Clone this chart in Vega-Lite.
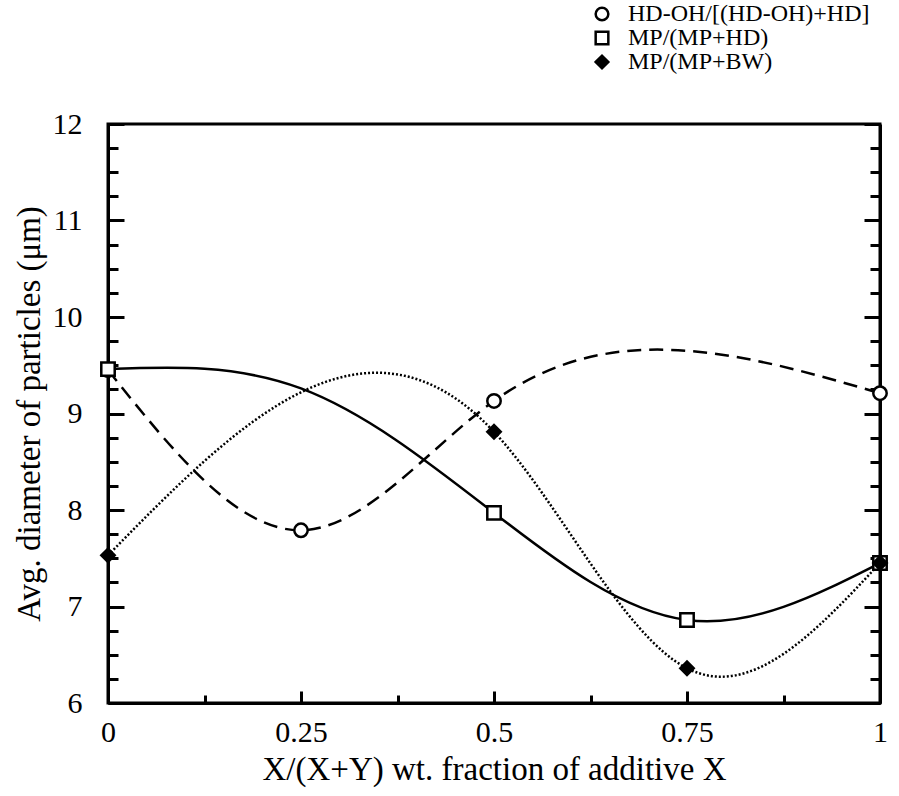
{
  "$schema": "https://vega.github.io/schema/vega-lite/v6.json",
  "width": 772,
  "height": 579,
  "autosize": "none",
  "padding": {"left": 108, "top": 124, "right": 19, "bottom": 93},
  "background": "white",
  "config": {
    "view": {"stroke": "black", "strokeWidth": 3},
    "font": "Liberation Serif",
    "axis": {
      "domainColor": "black",
      "domainWidth": 3,
      "tickColor": "black",
      "tickWidth": 3,
      "labelColor": "black",
      "titleColor": "black",
      "labelFont": "Liberation Serif",
      "titleFont": "Liberation Serif",
      "labelFontSize": 30,
      "titleFontSize": 33,
      "titleFontWeight": "normal",
      "grid": false
    },
    "legend": {
      "labelFont": "Liberation Serif",
      "labelFontSize": 24,
      "labelColor": "black",
      "labelLimit": 500,
      "symbolSize": 160,
      "symbolStrokeWidth": 2.5,
      "symbolStrokeColor": "black",
      "labelOffset": 14,
      "rowPadding": 0
    }
  },
  "data": {
    "values": [
      {"series": "HD-OH/[(HD-OH)+HD]", "x": 0, "y": 9.45, "marker": true},
      {"series": "HD-OH/[(HD-OH)+HD]", "x": 0.25, "y": 7.79, "marker": true},
      {"series": "HD-OH/[(HD-OH)+HD]", "x": 0.5, "y": 9.13, "marker": true},
      {"series": "HD-OH/[(HD-OH)+HD]", "x": 0.75, "y": 9.65, "marker": false},
      {"series": "HD-OH/[(HD-OH)+HD]", "x": 1, "y": 9.21, "marker": true},
      {"series": "MP/(MP+HD)", "x": 0, "y": 9.46, "marker": true},
      {"series": "MP/(MP+HD)", "x": 0.25, "y": 9.26, "marker": false},
      {"series": "MP/(MP+HD)", "x": 0.5, "y": 7.97, "marker": true},
      {"series": "MP/(MP+HD)", "x": 0.75, "y": 6.86, "marker": true},
      {"series": "MP/(MP+HD)", "x": 1, "y": 7.45, "marker": true},
      {"series": "MP/(MP+BW)", "x": 0, "y": 7.53, "marker": true},
      {"series": "MP/(MP+BW)", "x": 0.25, "y": 9.22, "marker": false},
      {"series": "MP/(MP+BW)", "x": 0.5, "y": 8.81, "marker": true},
      {"series": "MP/(MP+BW)", "x": 0.75, "y": 6.36, "marker": true},
      {"series": "MP/(MP+BW)", "x": 1, "y": 7.45, "marker": true}
    ]
  },
  "encoding": {
    "x": {
      "field": "x", "type": "quantitative",
      "scale": {"domain": [0, 1], "nice": false},
      "axis": {
        "title": "X/(X+Y) wt. fraction of additive X",
        "values": [0, 0.125, 0.25, 0.375, 0.5, 0.625, 0.75, 0.875, 1],
        "labelExpr": "datum.value * 4 % 1 == 0 ? '' + datum.value : ''",
        "tickSize": {"condition": {"test": "datum.value * 4 % 1 == 0", "value": -12}, "value": -8},
        "labelPadding": 26,
        "titlePadding": 2,
        "labelFlush": false,
        "labelOverlap": false
      }
    }
  },
  "layer": [
    {
      "transform": [{"filter": "datum.series == 'HD-OH/[(HD-OH)+HD]'"}],
      "mark": {"type": "line", "interpolate": "natural", "strokeWidth": 2.5, "color": "black", "strokeDash": [14, 8]},
      "encoding": {
        "y": {
          "field": "y", "type": "quantitative",
          "scale": {"domain": [6, 12], "nice": false, "zero": false},
          "axis": {
            "title": "Avg. diameter of particles (μm)",
            "values": [6, 6.25, 6.5, 6.75, 7, 7.25, 7.5, 7.75, 8, 8.25, 8.5, 8.75, 9, 9.25, 9.5, 9.75, 10, 10.25, 10.5, 10.75, 11, 11.25, 11.5, 11.75, 12],
            "labelExpr": "datum.value % 1 == 0 ? '' + datum.value : ''",
            "tickSize": {"condition": {"test": "datum.value % 1 == 0", "value": -16}, "value": -10},
            "labelPadding": 42,
            "titlePadding": 6,
            "labelFlush": false,
            "labelOverlap": false
          }
        }
      }
    },
    {
      "transform": [{"filter": "datum.series == 'MP/(MP+HD)'"}],
      "mark": {"type": "line", "interpolate": "natural", "strokeWidth": 2.5, "color": "black"},
      "encoding": {
        "y": {"field": "y", "type": "quantitative", "axis": null}
      }
    },
    {
      "transform": [{"filter": "datum.series == 'MP/(MP+BW)'"}],
      "mark": {"type": "line", "interpolate": "natural", "strokeWidth": 2.5, "color": "black", "strokeDash": [2, 2]},
      "encoding": {
        "y": {"field": "y", "type": "quantitative", "axis": null}
      }
    },
    {
      "transform": [{"filter": "datum.marker"}],
      "mark": {"type": "point", "filled": false, "strokeWidth": 2.5, "opacity": 1, "size": 180},
      "encoding": {
        "y": {
          "field": "y", "type": "quantitative",
          "axis": {
            "orient": "right",
            "title": null,
            "values": [6, 6.25, 6.5, 6.75, 7, 7.25, 7.5, 7.75, 8, 8.25, 8.5, 8.75, 9, 9.25, 9.5, 9.75, 10, 10.25, 10.5, 10.75, 11, 11.25, 11.5, 11.75, 12],
            "labels": false,
            "tickSize": {"condition": {"test": "datum.value % 1 == 0", "value": -16}, "value": -10}
          }
        },
        "shape": {
          "field": "series", "type": "nominal",
          "scale": {"domain": ["HD-OH/[(HD-OH)+HD]", "MP/(MP+HD)", "MP/(MP+BW)"], "range": ["circle", "square", "diamond"]},
          "legend": {"title": null, "orient": "none", "legendX": 482, "legendY": -122}
        },
        "fill": {
          "field": "series", "type": "nominal",
          "scale": {"domain": ["HD-OH/[(HD-OH)+HD]", "MP/(MP+HD)", "MP/(MP+BW)"], "range": ["white", "white", "black"]},
          "legend": {"title": null, "orient": "none", "legendX": 482, "legendY": -122}
        },
        "stroke": {
          "field": "series", "type": "nominal",
          "scale": {"domain": ["HD-OH/[(HD-OH)+HD]", "MP/(MP+HD)", "MP/(MP+BW)"], "range": ["black", "black", "black"]},
          "legend": {"title": null, "orient": "none", "legendX": 482, "legendY": -122}
        }
      }
    }
  ],
  "resolve": {"axis": {"y": "independent"}}
}
